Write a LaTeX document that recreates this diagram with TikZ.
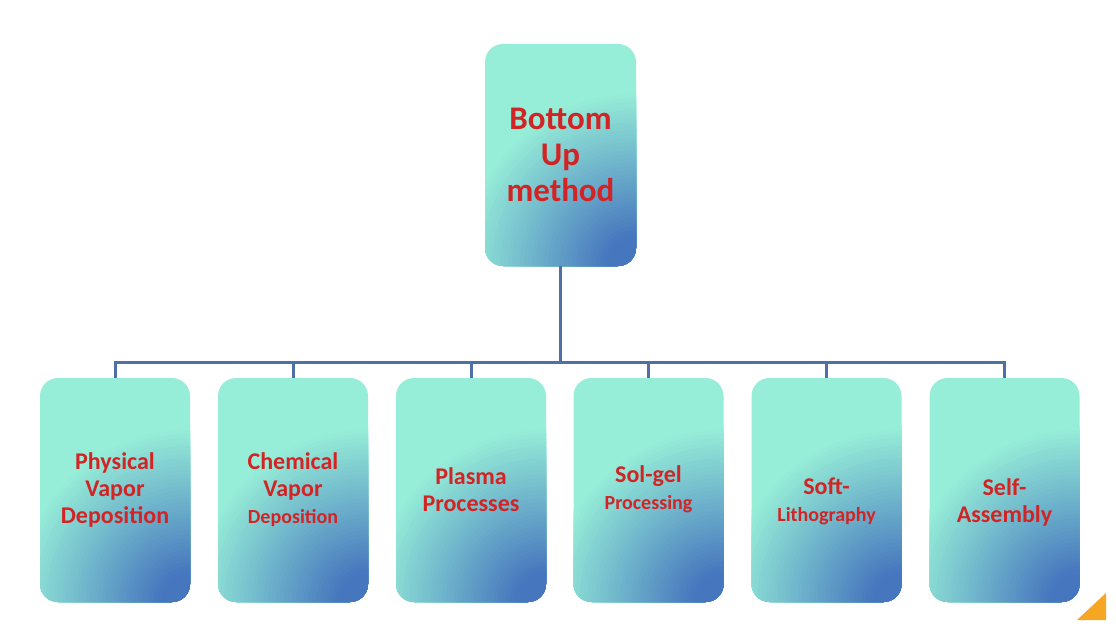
\documentclass[tikz,border=0pt]{standalone}
\usepackage{fontspec}
\setmainfont{Carlito}
\definecolor{aq}{RGB}{150,238,216}
\definecolor{cb}{RGB}{70,118,190}
\definecolor{linec}{RGB}{78,112,166}
\definecolor{txt}{RGB}{210,36,36}
\definecolor{tri}{RGB}{245,166,35}
\tikzset{
  boxnode/.style={rounded corners=18pt, inner sep=0pt, fill=aq,
    path picture={\foreach \r in {176,172,...,28} {\pgfmathsetmacro\p{min(100,100*(176-\r)/145)}\fill[cb!\p!aq] (path picture bounding box.south east) circle (\r pt);}}},
  topbox/.style={boxnode, minimum width=151pt, minimum height=222pt},
  subbox/.style={boxnode, minimum width=150pt, minimum height=224pt},
  lbl/.style={text=txt, align=center, font=\bfseries\fontsize{24}{27}\selectfont, inner sep=0pt},
  toplbl/.style={text=txt, align=center, font=\bfseries\fontsize{33}{36}\selectfont, inner sep=0pt},
  conn/.style={draw=linec, line width=3pt}
}
\newcommand{\smallln}[1]{{\fontsize{20}{27}\selectfont #1}}
\begin{document}
\begin{tikzpicture}[x=1pt,y=-1pt]
\useasboundingbox[fill=white] (0,0) rectangle (1116,631);
\node[topbox] (top) at (560.5,155) {};
\node[toplbl] (toptxt) at (top.center) {Bottom\\Up\\method};
\node[subbox] (b1) at (115,490) {};
\node[subbox] (b2) at (293,490) {};
\node[subbox] (b3) at (471,490) {};
\node[subbox] (b4) at (648.5,490) {};
\node[subbox] (b5) at (826.5,490) {};
\node[subbox] (b6) at (1004.5,490) {};
\node[lbl] (t1) at (b1.center) {Physical\\Vapor\\Deposition};
\node[lbl] (t2) at (b2.center) {Chemical\\Vapor\\\smallln{Deposition}};
\node[lbl] (t3) at (b3.center) {Plasma\\Processes};
\node[lbl] (t4) at ([yshift=1pt]b4.center) {Sol-gel\\\smallln{Processing}};
\node[lbl] (t5) at ([yshift=-11pt]b5.center) {Soft-\\\smallln{Lithography}};
\node[lbl] (t6) at ([yshift=-12pt]b6.center) {Self-\\Assembly};
\coordinate (bus) at (560.5,362);
\draw[conn] (top.south) -- (bus);
\draw[conn] (b1.north) |- (bus) -| (b6.north);
\foreach \k in {b2,b3,b4,b5} \draw[conn] (\k.north) -- (\k.north |- bus);
\fill[tri] (1106,593) -- (1106,620) -- (1077,620) -- cycle;
\end{tikzpicture}
\end{document}
